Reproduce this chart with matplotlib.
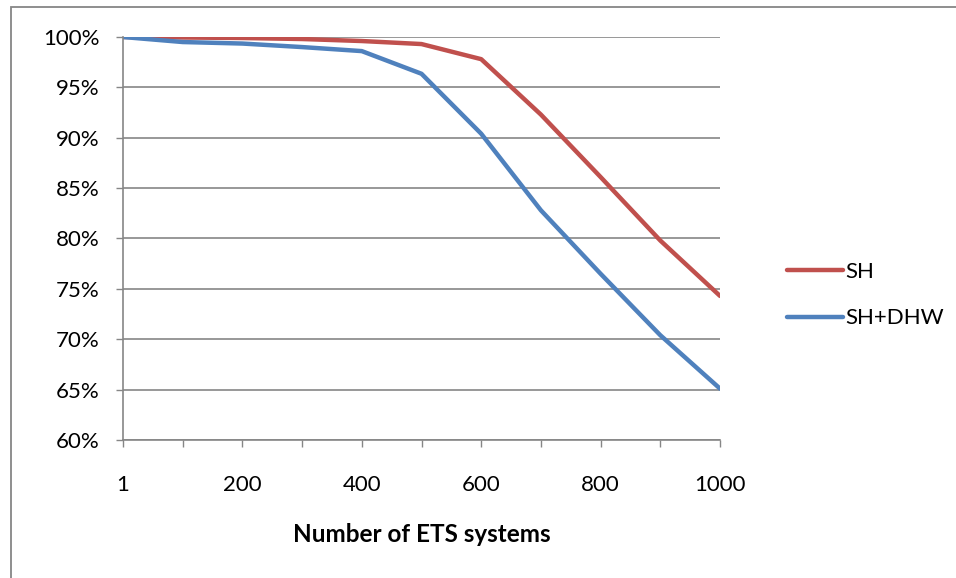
import matplotlib
matplotlib.use("Agg")
import matplotlib.pyplot as plt
from matplotlib.patches import Rectangle

systems = ["1", "100", "200", "300", "400", "500", "600", "700", "800", "900", "1000"]
sh = [100.0, 99.95, 99.9, 99.8, 99.6, 99.3, 97.8, 92.3, 86.1, 79.8, 74.3]
sh_dhw = [100.0, 99.5, 99.35, 99.0, 98.6, 96.35, 90.4, 82.8, 76.5, 70.4, 65.1]

plt.rcParams['font.family'] = ['Lato', 'DejaVu Sans']

W, H = 956, 578
fig = plt.figure(figsize=(W / 100, H / 100), dpi=100)
ax = fig.add_axes([123 / W, (H - 440) / H, (720 - 123) / W, (440 - 37) / H])

x = list(range(len(systems)))
ax.plot(x, sh, color='#C0504D', linewidth=3.2, label='SH', solid_capstyle='round')
ax.plot(x, sh_dhw, color='#4F81BD', linewidth=3.2, label='SH+DHW', solid_capstyle='round')

ax.set_xlim(0, len(systems) - 1)
ax.set_ylim(60, 100)
ax.set_yticks(range(60, 101, 5))
ax.set_yticklabels([f"{v}%" for v in range(60, 101, 5)], fontsize=16)
ax.set_xticks(x)
ax.set_xticklabels([s if i % 2 == 0 else "" for i, s in enumerate(systems)], fontsize=16)
ax.tick_params(axis='both', direction='out', length=5, width=1, color='#868686')
ax.tick_params(axis='x', pad=20)
ax.tick_params(axis='y', pad=12)

ax.yaxis.grid(True, color='#868686', linewidth=1.2)
ax.set_axisbelow(True)
for s in ['top', 'right']:
    ax.spines[s].set_visible(False)
for s in ['left', 'bottom']:
    ax.spines[s].set_color('#868686')
    ax.spines[s].set_linewidth(1.2)

ax.set_xlabel('Number of ETS systems', fontsize=17.5, fontweight='bold', labelpad=20)

fig.legend(loc='center left', bbox_to_anchor=(787 / W, 1 - 295 / H), frameon=False,
           fontsize=16, handlelength=2.5, handletextpad=0.12, labelspacing=1.2,
           borderpad=0, borderaxespad=0)

# chart area border, cut off on the right and bottom
fig.patches.append(Rectangle((11 / W, -0.1), 1.2, (H - 7) / H + 0.1,
                             transform=fig.transFigure, fill=False,
                             edgecolor='#868686', linewidth=1.3))

fig.savefig('out.png', dpi=100)
